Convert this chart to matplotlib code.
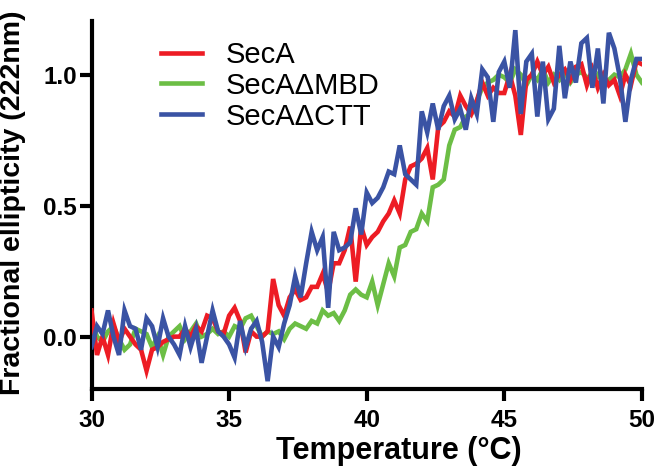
import numpy as np
import matplotlib
matplotlib.use("Agg")
from matplotlib import pyplot as plt

# temperature grid (deg C), one reading every 0.2 deg
temps = np.round(np.arange(30.0, 50.01, 0.2), 1)

seca = [0.10, -0.07, 0.00, -0.07, 0.05, -0.02, 0.03, 0.00, -0.03, -0.05,
        -0.13, -0.05, -0.04, -0.02, -0.01, 0.00, 0.00, 0.03, 0.00, 0.04,
        0.02, 0.08, 0.07, 0.02, 0.01, 0.08, 0.11, 0.06, -0.06, 0.02,
        0.00, 0.00, 0.02, 0.22, 0.12, 0.08, 0.15, 0.18, 0.14, 0.15,
        0.19, 0.19, 0.24, 0.17, 0.28, 0.28, 0.33, 0.42, 0.21, 0.42,
        0.35, 0.38, 0.40, 0.44, 0.47, 0.52, 0.47, 0.60, 0.65, 0.66,
        0.68, 0.72, 0.60, 0.80, 0.82, 0.86, 0.84, 0.92, 0.88, 0.85,
        0.90, 0.97, 0.92, 0.95, 0.93, 0.93, 1.00, 0.92, 0.77, 0.98,
        1.00, 1.05, 1.00, 1.03, 0.97, 1.00, 1.02, 0.98, 1.03, 1.04,
        0.96, 1.02, 0.95, 1.00, 0.96, 0.98, 0.92, 1.00, 0.96, 1.05,
        1.04]

seca_dmbd = [0.06, 0.00, -0.02, 0.02, 0.04, -0.01, -0.05, -0.03, 0.03, 0.02,
             0.01, -0.04, 0.00, -0.07, 0.00, 0.02, 0.04, -0.01, 0.02, 0.05,
             0.00, 0.01, 0.03, 0.01, 0.02, 0.00, 0.04, 0.03, 0.07, 0.08,
             0.04, 0.00, 0.02, 0.01, 0.02, -0.01, 0.03, 0.05, 0.04, 0.03,
             0.06, 0.05, 0.10, 0.08, 0.09, 0.06, 0.10, 0.16, 0.18, 0.16,
             0.15, 0.21, 0.12, 0.20, 0.28, 0.23, 0.34, 0.35, 0.40, 0.41,
             0.47, 0.44, 0.57, 0.58, 0.60, 0.73, 0.79, 0.80, 0.84, 0.85,
             0.90, 0.95, 0.97, 0.98, 1.00, 0.99, 0.97, 1.02, 1.00, 0.96,
             1.00, 0.98, 1.02, 0.97, 1.00, 0.98, 1.01, 0.97, 1.00, 1.01,
             0.99, 0.97, 1.00, 0.97, 0.98, 1.00, 0.99, 1.02, 1.08, 1.00,
             0.97]

seca_dctt = [-0.04, 0.04, 0.01, 0.10, 0.00, -0.07, 0.10, 0.04, 0.03, -0.05,
             0.07, 0.04, -0.04, 0.07, 0.00, -0.03, -0.07, 0.04, -0.04, 0.03,
             -0.10, 0.00, 0.10, 0.02, 0.00, -0.03, -0.08, 0.06, -0.04, 0.03,
             0.06, -0.02, -0.17, 0.00, -0.04, 0.05, 0.12, 0.23, 0.15, 0.28,
             0.40, 0.33, 0.38, 0.11, 0.40, 0.33, 0.34, 0.36, 0.49, 0.39,
             0.55, 0.51, 0.53, 0.57, 0.63, 0.62, 0.73, 0.62, 0.60, 0.58,
             0.86, 0.78, 0.89, 0.79, 0.88, 0.92, 0.83, 0.87, 0.79, 0.91,
             0.85, 1.02, 0.99, 0.82, 1.01, 1.05, 0.95, 1.17, 0.85, 1.05,
             1.08, 0.84, 1.05, 0.83, 0.87, 1.11, 0.91, 1.05, 0.97, 1.12,
             1.14, 0.95, 1.10, 0.89, 1.16, 1.10, 0.99, 0.82, 0.98, 1.06,
             1.06]

labels = ["SecA", "SecAΔMBD", "SecAΔCTT"]
colors = ["#ED1C24", "#6CBE45", "#3A53A4"]

plt.rcParams['font.family'] = ['Liberation Sans', 'DejaVu Sans']

fig = plt.figure(figsize=(6.56, 4.75), dpi=100)
ax = fig.add_axes([0.1395, 0.181, 0.839, 0.7754])

series = [seca, seca_dmbd, seca_dctt]
zorders = [3, 2, 4]
for ys, lab, col, z in zip(series, labels, colors, zorders):
    ax.plot(temps, ys, color=col, lw=3.3, label=lab, zorder=z,
            solid_joinstyle='miter')

ax.set_xlim(30, 50)
ax.set_ylim(-0.2, 1.206)
ax.set_xticks([30, 35, 40, 45, 50])
ax.set_yticks([0.0, 0.5, 1.0])
ax.set_yticklabels(["0.0", "0.5", "1.0"])

for s in ['top', 'right']:
    ax.spines[s].set_visible(False)
for s in ['left', 'bottom']:
    ax.spines[s].set_linewidth(3)

ax.tick_params(width=3, length=8.5, labelsize=17.5, direction='out')
ax.tick_params(axis='x', pad=6)
ax.tick_params(axis='y', pad=2)
for t in ax.get_xticklabels() + ax.get_yticklabels():
    t.set_fontweight('bold')

ax.set_xlabel("Temperature (°C)", fontsize=22, fontweight='bold')
ax.xaxis.set_label_coords(0.558, -0.127)
ax.set_ylabel("Fractional ellipticity (222nm)", fontsize=20.5, fontweight='bold')
ax.yaxis.set_label_coords(-0.119, 0.505)

ax.legend(loc='upper left', bbox_to_anchor=(0.095, 0.993), frameon=False,
          fontsize=21, handlelength=1.4, handletextpad=0.8,
          labelspacing=0.1, borderaxespad=0.2)

fig.savefig("out.png", dpi=100)
